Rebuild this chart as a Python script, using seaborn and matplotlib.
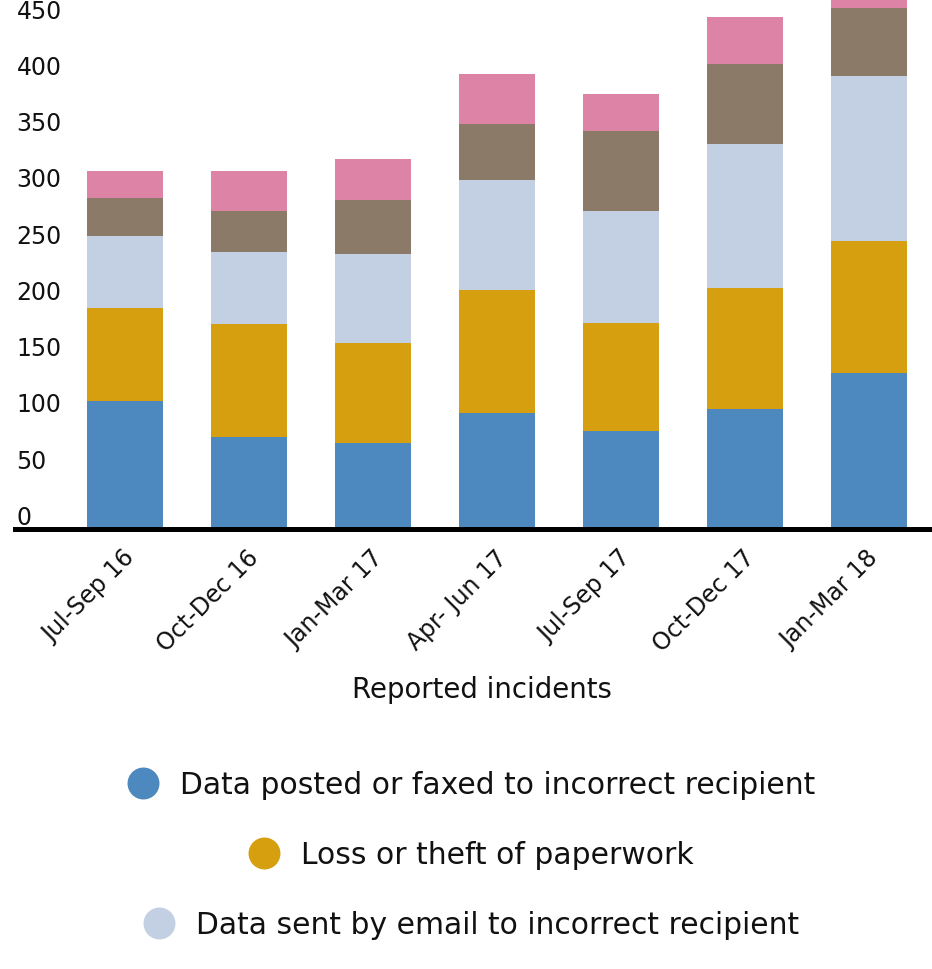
import numpy as np
import matplotlib.pyplot as plt
import seaborn as sns
from matplotlib.lines import Line2D
from matplotlib.transforms import ScaledTranslation

sns.set_theme(style="white")
plt.rcParams['font.family'] = ['DejaVu Sans']

quarters = ["Jul-Sep 16", "Oct-Dec 16", "Jan-Mar 17", "Apr- Jun 17",
            "Jul-Sep 17", "Oct-Dec 17", "Jan-Mar 18"]
posted_faxed = [114, 82, 76, 103, 87, 107, 139]
loss_theft = [82, 100, 89, 109, 96, 107, 117]
sent_email = [64, 64, 79, 98, 100, 128, 147]
other_brown = [34, 37, 48, 50, 71, 71, 60]
other_pink = [24, 35, 37, 44, 33, 42, 40]

legend_labels = ["Data posted or faxed to incorrect recipient",
                 "Loss or theft of paperwork",
                 "Data sent by email to incorrect recipient"]
colors = ["#4d89be", "#d69f0f", "#c3d0e3", "#8b7a67", "#dd83a5"]
yticks = list(range(0, 451, 50))

series = np.array([posted_faxed, loss_theft, sent_email, other_brown, other_pink])
cum = np.cumsum(series, axis=0)

fig = plt.figure(figsize=(9.32, 9.70), dpi=100)
ax = fig.add_axes([15/932, 440/970, 917/932, 530/970])

# stacked look: draw running totals, tallest layer first
for i in reversed(range(len(series))):
    sns.barplot(x=quarters, y=cum[i], order=quarters, color=colors[i],
                saturation=1, width=0.613, errorbar=None, linewidth=0, ax=ax)

ax.set_xlim(-0.887, 6.508)
ax.set_ylim(0, 471)
ax.set_yticks(yticks)

for s in ["left", "top", "right"]:
    ax.spines[s].set_visible(False)
ax.spines["bottom"].set_linewidth(3.6)
ax.spines["bottom"].set_color("black")

ax.tick_params(axis="y", length=0, pad=-1, labelsize=17, labelcolor="#111111")
ax.tick_params(axis="x", length=0, pad=11.5, labelsize=17, labelcolor="#111111",
               labelrotation=45)
plt.setp(ax.get_yticklabels(), ha="left", va="bottom")
plt.setp(ax.get_xticklabels(), ha="right", va="top", rotation_mode="anchor")
shift = ScaledTranslation(-0.025, 0, fig.dpi_scale_trans)
for lab in ax.get_xticklabels():
    lab.set_transform(lab.get_transform() + shift)

ax.set_ylabel("")
ax.set_xlabel("Reported incidents", fontsize=19.8, color="#111111")
ax.xaxis.set_label_coords(0.509, -0.302)
ax.xaxis.label.set_va("center")

for i, label in enumerate(legend_labels):
    h = Line2D([], [], marker="o", ls="none", markersize=23,
               markerfacecolor=colors[i], markeredgewidth=0)
    fig.legend(handles=[h], labels=[label], loc="center",
               bbox_to_anchor=(471/932, 1 - (786 + 70*i)/970),
               frameon=False, fontsize=21.4, numpoints=1,
               handlelength=1.08, handletextpad=0.7,
               borderpad=0, borderaxespad=0, labelcolor="#111111")

fig.savefig("out.png", dpi=100)
